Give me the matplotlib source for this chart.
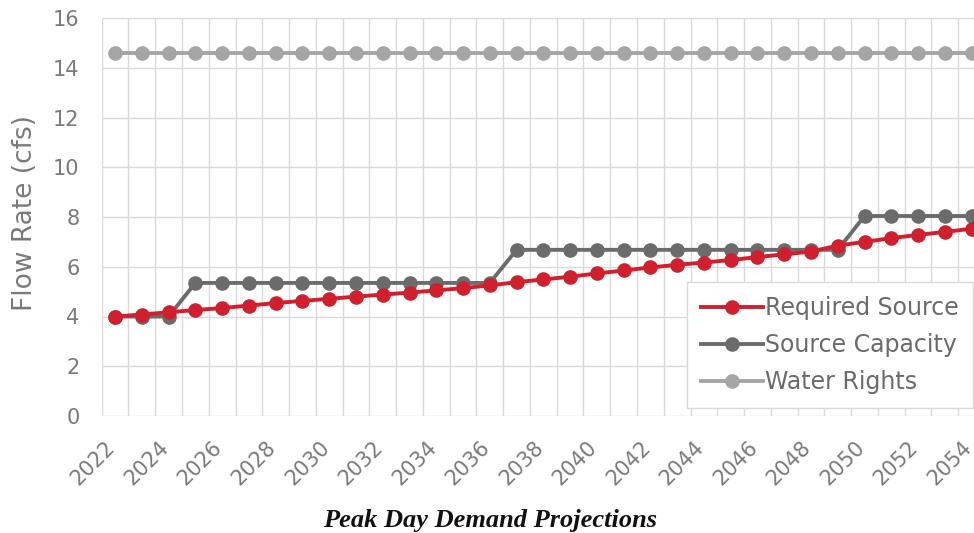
import numpy as np
import matplotlib
matplotlib.use("Agg")
import matplotlib.pyplot as plt
from matplotlib.ticker import FixedLocator
from matplotlib.transforms import ScaledTranslation

years = list(range(2022, 2055))

required_source = [4.00, 4.08, 4.17, 4.26, 4.34, 4.44, 4.54, 4.63, 4.71, 4.80,
                   4.88, 4.96, 5.05, 5.14, 5.25, 5.38, 5.49, 5.60, 5.73, 5.85,
                   5.97, 6.08, 6.17, 6.27, 6.39, 6.50, 6.61, 6.85, 7.00, 7.15,
                   7.28, 7.40, 7.53]
source_capacity = ([4.00] * 3 + [5.35] * 12 + [6.68] * 13 + [8.04] * 5)
water_rights = [14.6] * 33

series = [
    ("Required Source", required_source, "#d21f2d", 3),
    ("Source Capacity", source_capacity, "#6b6b6b", 2),
    ("Water Rights", water_rights, "#a5a5a5", 1),
]

W, H = 974, 533
fig = plt.figure(figsize=(W / 100, H / 100), dpi=100)
# axes run slightly past the right edge of the figure
ax = fig.add_axes([101.7 / W, 1 - 416 / H, (985 - 101.7) / W, (416 - 18) / H])

lines = {}
for name, vals, col, z in series:
    lines[name], = ax.plot(years, vals, "-o", color=col, lw=2.8, ms=9.5,
                           mec=col, zorder=z, label=name)

ax.set_xlim(2021.5, 2054.5)
ax.set_ylim(0, 16)
ax.set_yticks(np.arange(0, 17, 2))
ax.set_xticks(years[::2])
ax.xaxis.set_minor_locator(FixedLocator(np.arange(2021.5, 2055, 1.0)))
ax.grid(False)
ax.grid(True, which="minor", axis="x", color="#d9d9d9", lw=1.0)
ax.grid(True, which="major", axis="y", color="#d9d9d9", lw=1.0)
ax.set_axisbelow(True)
for s in ax.spines.values():
    s.set_visible(False)

ax.tick_params(axis="both", which="both", length=0, colors="#7a7a7a",
               labelsize=15)
ax.tick_params(axis="y", pad=16)
ax.tick_params(axis="x", pad=15)
shift = ScaledTranslation(-10 / 100, 0, fig.dpi_scale_trans)
for lbl in ax.get_xticklabels():
    lbl.set_rotation(45)
    lbl.set_ha("right")
    lbl.set_rotation_mode("anchor")
    lbl.set_transform(lbl.get_transform() + shift)

ax.set_ylabel("Flow Rate (cfs)", fontsize=19, color="#7a7a7a")
ax.yaxis.set_label_coords((38 - 101.7) / (985 - 101.7), (416 - 213) / 398)
fig.text(490 / W, 1 - 520 / H, "Peak Day Demand Projections",
         ha="center", va="center", fontsize=19, fontweight="bold",
         fontstyle="italic", family="Liberation Serif", color="#111111")

leg = ax.legend(handles=[lines[n] for n, *_ in series], loc="lower right",
                bbox_to_anchor=(973 / W, 1 - 408 / H),
                bbox_transform=fig.transFigure, borderaxespad=0,
                fontsize=17, handlelength=2.6, handletextpad=0.1,
                labelspacing=0.55, fancybox=False, framealpha=1,
                edgecolor="#d9d9d9", borderpad=0.6)
for t in leg.get_texts():
    t.set_color("#6b6b6b")

fig.savefig("out.png", dpi=100)
